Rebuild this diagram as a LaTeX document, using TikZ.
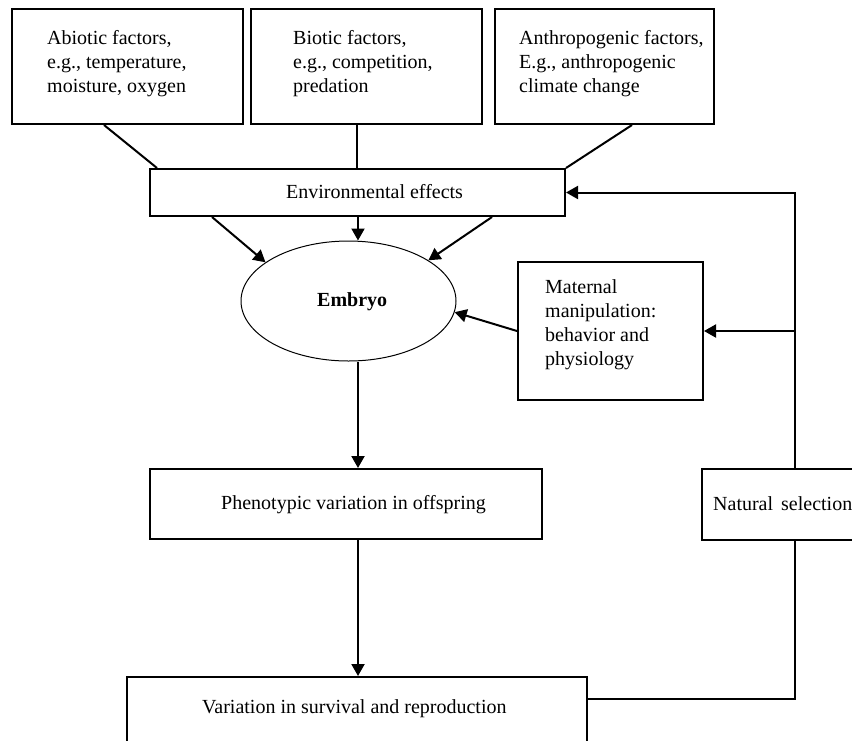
\documentclass[tikz,border=0pt]{standalone}
\usepackage{fontspec}
\setmainfont{Liberation Serif}
\usetikzlibrary{arrows.meta,shapes.geometric}
\begin{document}
\begin{tikzpicture}[x=1pt,y=-1pt,
  box/.style={draw, line width=2pt, inner sep=0pt, rectangle},
  txt/.style={inner sep=0pt, align=left, anchor=north west, font=\fontsize{20}{24}\selectfont},
  lbl/.style={inner sep=0pt, anchor=base west, font=\fontsize{20}{24}\selectfont},
  ln/.style={line width=2pt},
  arr/.style={line width=2pt, -{Triangle[length=12pt,width=13pt]}}]
\useasboundingbox (0,0) rectangle (852,740);
\clip (0,0) rectangle (852,740);
% boxes
\node[box, minimum width=231pt, minimum height=115pt] (abio) at (127.5,66.5) {};
\node[box, minimum width=231pt, minimum height=115pt] (bio) at (366.5,66.5) {};
\node[box, minimum width=219pt, minimum height=115pt] (anth) at (604.5,66.5) {};
\node[box, minimum width=415pt, minimum height=47pt] (env) at (357.5,192.5) {};
\node[ellipse, draw, line width=1pt, minimum width=215pt, minimum height=120pt, inner sep=0pt] (emb) at (348.5,301) {};
\node[box, minimum width=185pt, minimum height=138pt] (mat) at (610.5,331) {};
\node[box, minimum width=392pt, minimum height=70pt] (phen) at (346,504) {};
\node[box, minimum width=460pt, minimum height=72pt] (var) at (357,713) {};
\node[box, minimum width=200pt, minimum height=71pt] (ns) at (802,504.5) {};
% texts
\node[txt] (tabio) at (47,30.3) {Abiotic factors,\\e.g., temperature,\\moisture, oxygen};
\node[txt] (tbio) at (293,30.3) {Biotic factors,\\e.g., competition,\\predation};
\node[txt] (tanth) at (519,30.3) {Anthropogenic factors,\\E.g., anthropogenic\\climate change};
\node[lbl] (tenv) at (286,198) {Environmental effects};
\node[lbl, font=\fontsize{20}{24}\selectfont\bfseries] (temb) at (317,306) {Embryo};
\node[txt] (tmat) at (545,279) {Maternal\\manipulation:\\behavior and\\physiology};
\node[lbl] (tphen) at (221,509) {Phenotypic variation in offspring};
\node[lbl] (tvar) at (202,713) {Variation in survival and reproduction};
\node[lbl] (tns) at (713,510) {Natural\hspace{8pt}selection};
% connectors
\draw[ln] ([xshift=93pt]abio.south west) -- ([xshift=8pt]env.north west);
\draw[ln] ([xshift=-9.5pt]bio.south) -- ([xshift=-9.5pt]bio.south |- env.north);
\draw[ln] ([xshift=138pt]anth.south west) -- (env.north east);
\draw[arr] ([xshift=63pt]env.south west) -- (emb.155);
\draw[arr] ([xshift=0.5pt]env.south) -- ([xshift=0.5pt]env.south |- emb.north);
\draw[arr] ([xshift=343pt]env.south west) -- (emb.27.5);
\draw[arr] (mat.west) -- (emb.-6);
\draw[arr] ([xshift=-7pt]ns.north) |- (env.east);
\draw[arr] ([xshift=-7pt]ns.north |- mat.east) -- (mat.east);
\draw[arr] ([xshift=9.5pt]emb.south) -- ([xshift=9.5pt]emb.south |- phen.north);
\draw[arr] ([xshift=12pt]phen.south) -- ([xshift=12pt]phen.south |- var.north);
\draw[ln] ([yshift=14pt]var.east) -| ([xshift=-7pt]ns.south);
\end{tikzpicture}
\end{document}
